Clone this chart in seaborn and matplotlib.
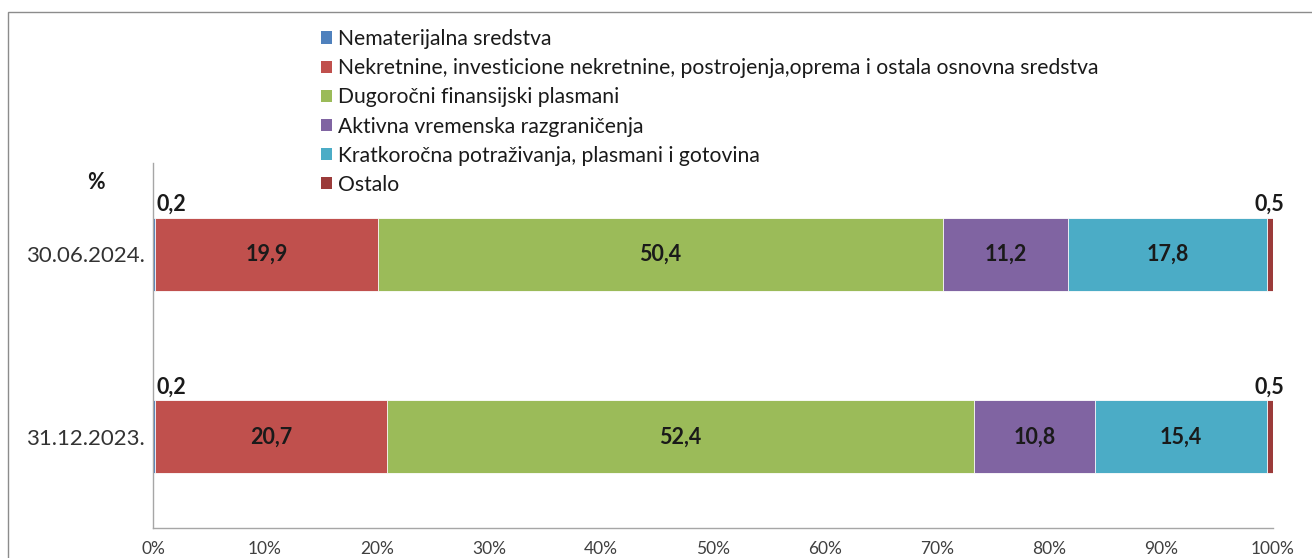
import matplotlib
matplotlib.use("Agg")
import pandas as pd
import seaborn as sns
import matplotlib.pyplot as plt
from matplotlib.patches import Patch, Rectangle

# Data
dates = ["30.06.2024.", "31.12.2023."]
categories = [
    "Nematerijalna sredstva",
    "Nekretnine, investicione nekretnine, postrojenja,oprema i ostala osnovna sredstva",
    "Dugoročni finansijski plasmani",
    "Aktivna vremenska razgraničenja",
    "Kratkoročna potraživanja, plasmani i gotovina",
    "Ostalo",
]
nematerijalna = [0.2, 0.2]
nekretnine = [19.9, 20.7]
dugorocni = [50.4, 52.4]
aktivna = [11.2, 10.8]
kratkorocna = [17.8, 15.4]
ostalo = [0.5, 0.5]
colors = ["#4F81BD", "#C0504D", "#9BBB59", "#8064A2", "#4BACC6", "#9B3B3A"]
xticks = [0, 10, 20, 30, 40, 50, 60, 70, 80, 90, 100]

df = pd.DataFrame({"datum": dates})
for cat, vals in zip(categories, [nematerijalna, nekretnine, dugorocni, aktivna, kratkorocna, ostalo]):
    df[cat] = vals
cum = df[categories].cumsum(axis=1)

sns.set_theme(style="white")
plt.rcParams["font.family"] = ["Lato", "DejaVu Sans"]

W, H = 1312, 558
fig = plt.figure(figsize=(W / 100, H / 100), dpi=100)
ax = fig.add_axes([153 / W, 30 / H, 1120 / W, 365 / H])

# stacked bars: draw cumulative totals from the largest down
for i in reversed(range(len(categories))):
    sns.barplot(x=cum[categories[i]], y=df["datum"], color=colors[i], orient="h",
                width=0.4, saturation=1, edgecolor="white", linewidth=0.6, ax=ax)

# value labels
lab = dict(fontsize=15.5, fontweight="bold", color="#1a1a1a")
for j in range(len(dates)):
    for i, cat in enumerate(categories):
        v = df.loc[j, cat]
        txt = f"{v:.1f}".replace(".", ",")
        if v >= 1:
            ax.text(cum.loc[j, cat] - v / 2, j, txt, ha="center", va="center", **lab)
        elif i == 0:
            ax.text(0.3, j - 0.215, txt, ha="left", va="bottom", **lab)
        else:
            ax.text(99.7, j - 0.215, txt, ha="center", va="bottom", **lab)

ax.set_xlim(0, 100)
ax.set_xticks(xticks)
ax.set_xticklabels([f"{t}%" for t in xticks], fontsize=12.5, color="#404040")
ax.set_ylim(1.5, -0.5)
ax.set_yticks([-0.5, 0.5, 1.5])
ax.set_yticklabels([])
ax.set_yticks([0, 1], minor=True)
ax.set_yticklabels(dates, minor=True, fontsize=16, color="#333333")
ax.tick_params(axis="both", which="major", length=5, width=1, color="#a6a6a6", direction="out")
ax.tick_params(axis="y", which="minor", length=0, pad=6)
ax.tick_params(axis="x", pad=4)
ax.set_xlabel("")
ax.set_ylabel("")
for s in ["top", "right"]:
    ax.spines[s].set_visible(False)
for s in ["left", "bottom"]:
    ax.spines[s].set_color("#a6a6a6")
    ax.spines[s].set_linewidth(1)

fig.text(96 / W, 1 - 183 / H, "%", ha="center", va="center", fontsize=15.5,
         fontweight="bold", color="#1a1a1a")

handles = [Patch(facecolor=c, edgecolor="none") for c in colors]
fig.legend(handles, categories, loc="upper left", bbox_to_anchor=(321 / W, 1 - 29 / H),
           frameon=False, fontsize=15.2, handlelength=0.5, handleheight=0.5,
           handletextpad=0.3, labelspacing=0.435, borderpad=0, borderaxespad=0,
           labelcolor="#1a1a1a")

# chart frame
fig.add_artist(Rectangle((8 / W, -0.05), 1.1, 1.05 - 12 / H, transform=fig.transFigure,
                         fill=False, edgecolor="#8c8c8c", linewidth=1))

fig.savefig("out.png", dpi=100)
